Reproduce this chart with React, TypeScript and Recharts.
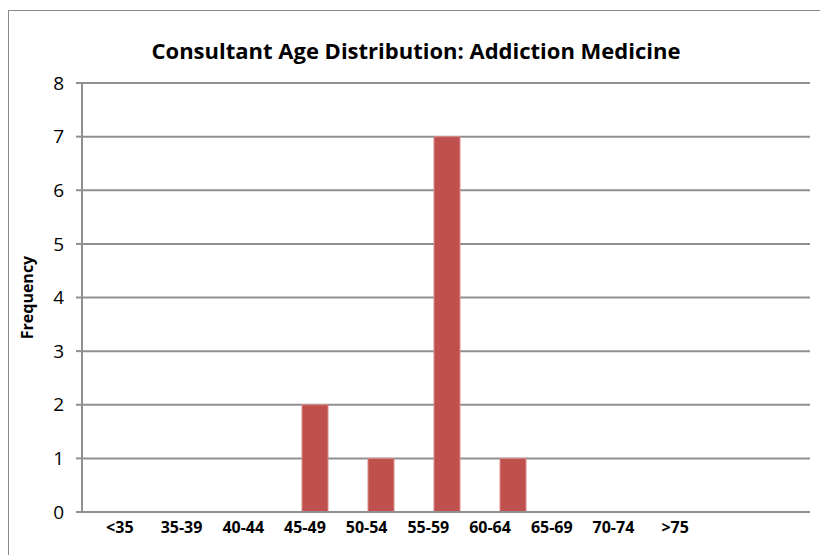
import React from 'react'
import { BarChart, Bar, XAxis, YAxis, CartesianGrid } from 'recharts'

const ageBands = ['<35', '35-39', '40-44', '45-49', '50-54', '55-59', '60-64', '65-69', '70-74', '>75']
const frequency = [0, 0, 0, 2, 1, 7, 1, 0, 0, 0]
const yTicks = [0, 1, 2, 3, 4, 5, 6, 7, 8]

const FONT = '"Open Sans", sans-serif'
const GRID = '#8f8f8f'

const data = ageBands.map((band, i) => ({ band, count: frequency[i] }))

export default function App() {
  return (
    <div style={{ position: 'absolute', left: 0, top: 0, width: 820, height: 555, background: '#fff', overflow: 'hidden', fontFamily: FONT }}>
      {/* chart frame, runs off the right and bottom of the picture */}
      <div style={{ position: 'absolute', left: 8, top: 10, width: 900, height: 700, borderTop: '1.5px solid #8a8a8a', borderLeft: '1.5px solid #8a8a8a' }} />
      <div style={{ position: 'absolute', left: 0, width: 832, top: 35, textAlign: 'center', fontWeight: 700, fontSize: 22, color: '#000' }}>
        Consultant Age Distribution: Addiction Medicine
      </div>
      <div style={{ position: 'absolute', left: 0, top: 0 }}>
        <BarChart width={820} height={555} data={data} margin={{ top: 83, right: 10, bottom: 0, left: 0 }}>
          <CartesianGrid vertical={false} stroke={GRID} strokeWidth={2} />
          <XAxis
            xAxisId="bars"
            dataKey="band"
            tick={false}
            tickLine={false}
            axisLine={{ stroke: GRID, strokeWidth: 2 }}
            height={1}
            padding={{ left: 2, right: 66 }}
          />
          <XAxis
            xAxisId="labels"
            dataKey="band"
            axisLine={false}
            tickLine={false}
            height={42}
            tickMargin={3}
            padding={{ left: 7, right: 104 }}
            tick={{ fill: '#000', fontSize: 16, fontWeight: 700, fontFamily: FONT }}
            interval={0}
          />
          <YAxis
            domain={[0, 8]}
            ticks={yTicks}
            width={82}
            tickSize={6}
            tickMargin={12}
            axisLine={{ stroke: GRID, strokeWidth: 2 }}
            tickLine={{ stroke: GRID, strokeWidth: 2 }}
            tick={{ fill: '#000', fontSize: 19, fontFamily: FONT }}
            label={{ value: 'Frequency', angle: -90, position: 'insideLeft', dx: 22, dy: 0, style: { fontWeight: 700, fontSize: 16, fill: '#000', fontFamily: FONT, textAnchor: 'middle' } }}
          />
          <Bar xAxisId="bars" dataKey="count" fill="#C0504D" stroke="#d98c8a" strokeWidth={1} barSize={26} isAnimationActive={false} />
        </BarChart>
      </div>
    </div>
  )
}
